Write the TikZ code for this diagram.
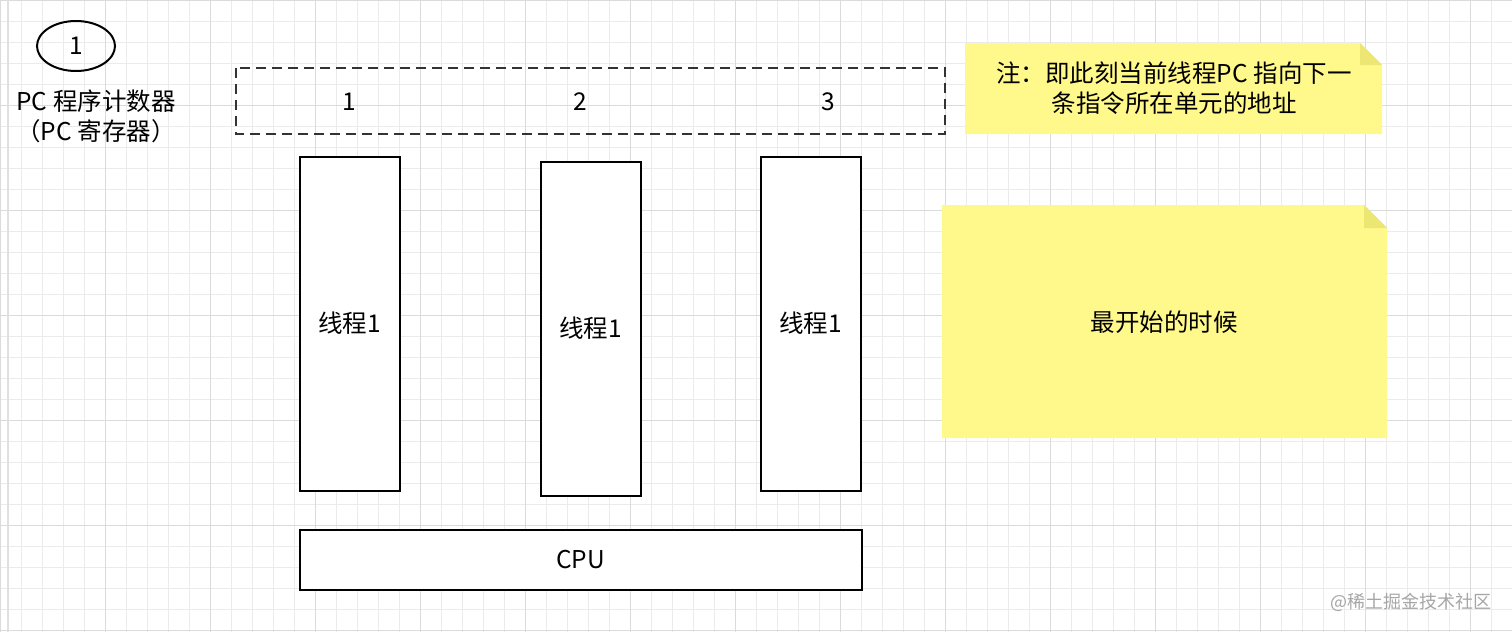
\documentclass[tikz,border=0pt]{standalone}
\usepackage{fontspec}
\setmainfont{Noto Sans CJK SC}
\begin{document}
\begin{tikzpicture}[x=1pt,y=-1pt,
  box/.style={draw=black,line width=2pt,fill=white},
  note/.style={fill=yellow!45!white},
  lab/.style={font=\fontsize{24.5}{30}\selectfont}]
\useasboundingbox (0,0) rectangle (1512,632);
\fill[white] (0,0) rectangle (1512,632);
\foreach \i in {0,21,...,1512} \draw[black!8,line width=0.6pt] (\i,0) -- (\i,632);
\foreach \j in {0,21,...,632} \draw[black!8,line width=0.6pt] (0,\j) -- (1512,\j);
\foreach \i in {0,105,...,1512} \draw[black!14,line width=0.6pt] (\i,0) -- (\i,632);
\foreach \j in {0,105,...,632} \draw[black!14,line width=0.6pt] (0,\j) -- (1512,\j);
\draw[black!12,line width=2pt] (8,0) -- (8,632);
% circle
\draw[line width=2pt] (76,46) ellipse (39 and 25);
\node[lab] (one) at (76,46) {1};
\node[lab,align=center] (pc) at (96,116) {PC 程序计数器\\（PC 寄存器）};
% dashed pc box
\draw[line width=2pt,dash pattern=on 10pt off 6pt,black!80] (236,68) rectangle (945,134);
\node[lab] (p1) at (349,102) {1};
\node[lab] (p2) at (580,102) {2};
\node[lab] (p3) at (828,102) {3};
% threads
\node[box,minimum width=100,minimum height=334,lab] (t1) at (349.5,323.5) {线程1};
\node[box,minimum width=100,minimum height=334,lab] (t2) at (590.5,328.5) {线程1};
\node[box,minimum width=100,minimum height=334,lab] (t3) at (810.5,323.5) {线程1};
\node[box,minimum width=562,minimum height=60,lab] (cpu) at (580.5,560) {CPU};
% notes
\fill[note] (965,43) -- (1360,43) -- (1382,65) -- (1382,134) -- (965,134) -- cycle;
\fill[yellow!30!black!20!yellow!60] (1360,43) -- (1382,65) -- (1360,65) -- cycle;
\node[lab,align=center] (n1) at (1174,88) {注：即此刻当前线程PC 指向下一\\条指令所在单元的地址};
\fill[note] (942,205) -- (1364,205) -- (1387,228) -- (1387,438) -- (942,438) -- cycle;
\fill[yellow!30!black!20!yellow!60] (1364,205) -- (1387,228) -- (1364,228) -- cycle;
\node[lab] (n2) at (1164,322) {最开始的时候};
\node[font=\fontsize{18}{20}\selectfont,text=black!35,anchor=east] (wm) at (1495,602) {@稀土掘金技术社区};
\end{tikzpicture}
\end{document}
